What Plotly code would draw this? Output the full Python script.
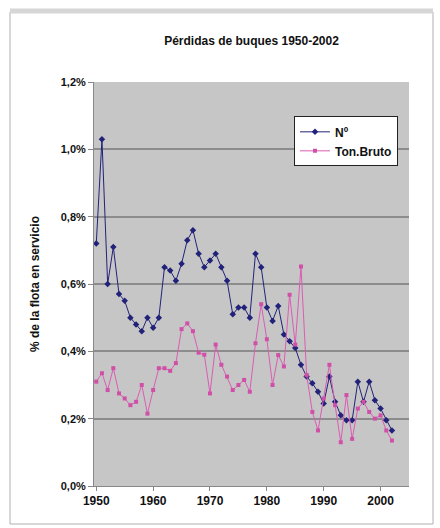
import plotly.graph_objects as go

# Annual ship losses as a share of the fleet in service (%)
years = list(range(1950, 2003))

perdidas_num = [
    0.72, 1.03, 0.60, 0.71, 0.57, 0.55, 0.50, 0.48, 0.46, 0.50,
    0.47, 0.50, 0.65, 0.64, 0.61, 0.66, 0.73, 0.76, 0.69, 0.65,
    0.67, 0.69, 0.65, 0.61, 0.51, 0.53, 0.53, 0.50, 0.69, 0.65,
    0.53, 0.49, 0.535, 0.45, 0.43, 0.41, 0.36, 0.325, 0.305, 0.28,
    0.245, 0.325, 0.25, 0.21, 0.195, 0.195, 0.31, 0.25, 0.31, 0.255,
    0.23, 0.195, 0.165,
]

perdidas_tonelaje = [
    0.31, 0.335, 0.285, 0.35, 0.275, 0.26, 0.24, 0.25, 0.30, 0.215,
    0.285, 0.35, 0.35, 0.342, 0.365, 0.466, 0.483, 0.46, 0.396, 0.39,
    0.275, 0.42, 0.36, 0.325, 0.285, 0.30, 0.315, 0.28, 0.424, 0.54,
    0.436, 0.30, 0.389, 0.355, 0.568, 0.42, 0.652, 0.33, 0.22, 0.165,
    0.26, 0.36, 0.24, 0.13, 0.27, 0.14, 0.23, 0.25, 0.22, 0.20,
    0.21, 0.165, 0.135,
]

y_ticks = [0.0, 0.2, 0.4, 0.6, 0.8, 1.0, 1.2]
y_ticktext = ["0,0%", "0,2%", "0,4%", "0,6%", "0,8%", "1,0%", "1,2%"]
x_ticks = [1950, 1960, 1970, 1980, 1990, 2000]

FONT = "Liberation Sans, Arial, sans-serif"
BOLD = dict(family=FONT, color="#111111", weight="bold")

fig = go.Figure()

fig.add_trace(go.Scatter(
    x=years, y=perdidas_num, name="Nº", mode="lines+markers",
    line=dict(color="#22227a", width=1),
    marker=dict(symbol="diamond", size=5, color="#22227a"),
))

fig.add_trace(go.Scatter(
    x=years, y=perdidas_tonelaje, name="Ton.Bruto", mode="lines+markers",
    line=dict(color="#dc5cb4", width=1),
    marker=dict(symbol="square", size=4, color="#d050a8"),
))

# Plot area spans roughly x 94..409 px and y 82..486 px
L, R, T, B = 94, 31, 82, 42
W, H = 440, 528
pw, ph = W - L - R, H - T - B


def px_x(p):
    return (p - L) / pw


def px_y(p):
    return (H - B - p) / ph


fig.update_layout(
    width=W, height=H,
    margin=dict(l=L, r=R, t=T, b=B),
    paper_bgcolor="white",
    plot_bgcolor="#c6c6c6",
    font=dict(family=FONT, size=11, color="#111111"),
    title=dict(
        text="Pérdidas de buques 1950-2002",
        x=0.5, xanchor="center", xref="paper",
        y=1 - 41 / H, yanchor="middle",
        font=dict(BOLD, size=12),
    ),
    showlegend=True,
    legend=dict(
        x=0.965, xanchor="right", y=0.915, yanchor="top",
        bgcolor="white", bordercolor="#222222", borderwidth=1,
        font=dict(BOLD, size=12),
        tracegroupgap=0, itemwidth=30,
    ),
    xaxis=dict(
        range=[1949.6, 2005.0],
        tickvals=x_ticks,
        ticktext=[str(v) for v in x_ticks],
        ticks="outside", ticklen=4, tickcolor="#888888",
        showgrid=False, zeroline=False,
        showline=True, linecolor="#888888", linewidth=1,
        tickfont=dict(BOLD, size=12),
    ),
    yaxis=dict(
        range=[0, 1.2],
        tickvals=y_ticks,
        ticktext=y_ticktext,
        ticks="outside", ticklen=5, tickcolor="#888888",
        showgrid=True, gridcolor="#8c8c8c", gridwidth=1.5,
        zeroline=False,
        showline=True, linecolor="#888888", linewidth=1,
        tickfont=dict(BOLD, size=11),
        title=dict(
            text="% de la flota en servicio",
            font=dict(BOLD, size=12),
            standoff=18,
        ),
    ),
    shapes=[
        # chart frame
        dict(type="rect", xref="paper", yref="paper",
             x0=px_x(10), x1=px_x(433), y0=px_y(524), y1=px_y(12),
             line=dict(color="#b0b0b0", width=1), layer="below"),
        dict(type="line", xref="paper", yref="paper",
             x0=px_x(10), x1=px_x(433), y0=px_y(11), y1=px_y(11),
             line=dict(color="#d6d6d6", width=5), layer="below"),
    ],
)

fig.write_html("out.html")
